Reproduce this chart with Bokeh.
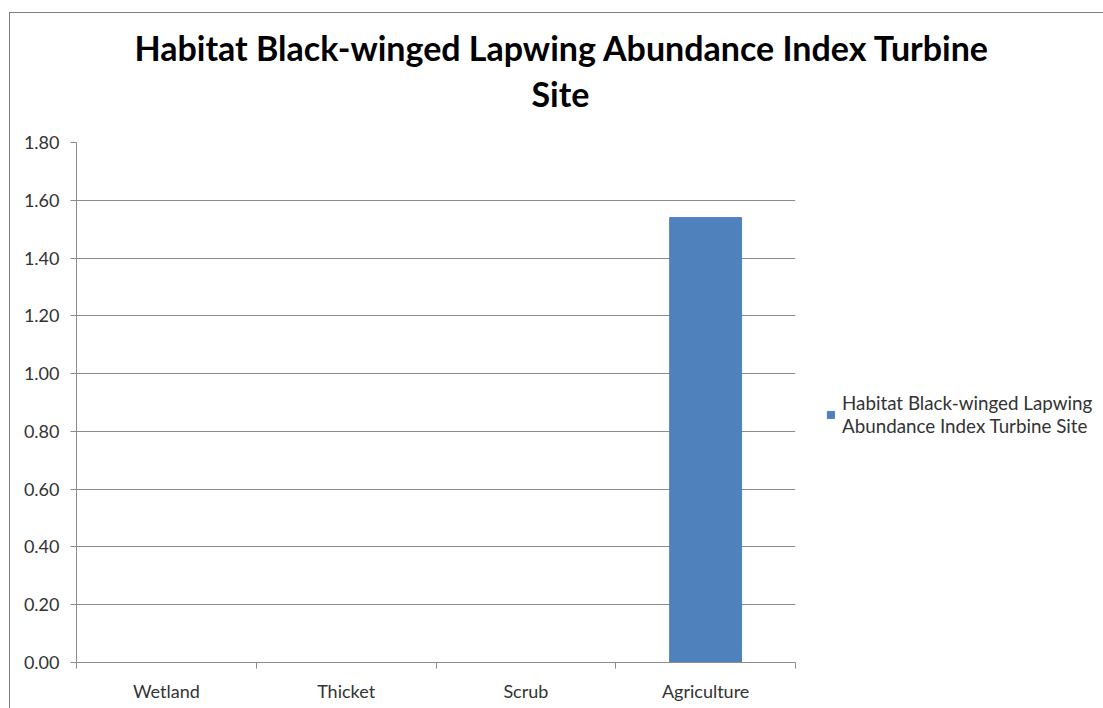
from bokeh.plotting import figure
from bokeh.models import (Title, LinearAxis, CategoricalAxis, FixedTicker,
                          NumeralTickFormatter, Legend)
from bokeh.embed import file_html
from bokeh.resources import INLINE

categories = ["Wetland", "Thicket", "Scrub", "Agriculture"]
values = [0.0, 0.0, 0.0, 1.54]
y_ticks = [0.0, 0.2, 0.4, 0.6, 0.8, 1.0, 1.2, 1.4, 1.6, 1.8]
category_edges = [0, 1, 2, 3, 4]
series_name = "Habitat Black-winged Lapwing\nAbundance Index Turbine Site"
title_lines = ["Habitat Black-winged Lapwing Abundance Index Turbine", "Site"]

FONT = "Lato"
GRAY = "#8c8c8c"
TXT = "#333333"

p = figure(x_range=categories, y_range=(0, 1.8), frame_width=719, frame_height=520,
           output_backend="svg", toolbar_location=None, x_axis_location=None,
           min_border_left=66, min_border_right=298, min_border_top=129,
           min_border_bottom=46)
p.styles = {"position": "absolute", "left": "9px", "top": "12px",
            "border-left": "1px solid #7f7f7f", "border-top": "1px solid #7f7f7f"}
p.outline_line_color = None
p.background_fill_color = "white"
p.border_fill_color = "white"

bars = p.vbar(x=categories, top=values, width=0.4, color="#4F81BD")

# y axis
yax = p.yaxis[0]
yax.ticker = FixedTicker(ticks=y_ticks)
yax.formatter = NumeralTickFormatter(format="0.00")
yax.axis_line_color = GRAY
yax.major_tick_line_color = GRAY
yax.major_tick_out = 6
yax.major_tick_in = 0
yax.minor_tick_line_color = None
yax.major_label_text_font = FONT
yax.major_label_text_font_size = "18px"
yax.major_label_text_color = TXT
yax.major_label_standoff = 11

p.ygrid.ticker = FixedTicker(ticks=y_ticks)
p.ygrid.grid_line_color = GRAY
p.xgrid.grid_line_color = None

# x axis: boundary ticks (synthetic category coordinates) + category labels
edge_axis = LinearAxis(ticker=FixedTicker(ticks=category_edges),
                       major_label_overrides={e: "" for e in category_edges},
                       major_label_text_font_size="1px", major_label_standoff=0,
                       major_tick_out=6, major_tick_in=0,
                       major_tick_line_color=GRAY, axis_line_color=GRAY,
                       minor_tick_line_color=None)
p.add_layout(edge_axis, "below")
cat_axis = CategoricalAxis(axis_line_color=None, major_tick_line_color=None,
                           major_label_text_font=FONT, major_label_text_font_size="18px",
                           major_label_text_color=TXT, major_label_standoff=5)
p.add_layout(cat_axis, "below")

# title (two wrapped lines)
p.add_layout(Title(text=title_lines[1], align="left", offset=455, standoff=57,
                   text_font=FONT, text_font_style="bold", text_font_size="34px",
                   text_color="black"), "above")
p.add_layout(Title(text=title_lines[0], align="left", offset=58, standoff=-50,
                   text_font=FONT, text_font_style="bold", text_font_size="34px",
                   text_color="black"), "above")

# legend
lg = Legend(items=[(series_name, [bars])], location=(31, 225), orientation="vertical",
            border_line_color=None, background_fill_alpha=0, padding=0, margin=0,
            glyph_width=9, glyph_height=9, label_standoff=7,
            label_text_font=FONT, label_text_font_size="18.8px", label_text_color=TXT)
p.add_layout(lg, "right")

html = file_html(p, INLINE)
html = html.replace("</head>", "<style>html,body{overflow:hidden;margin:0}</style></head>", 1)
open("out.html", "w").write(html)
